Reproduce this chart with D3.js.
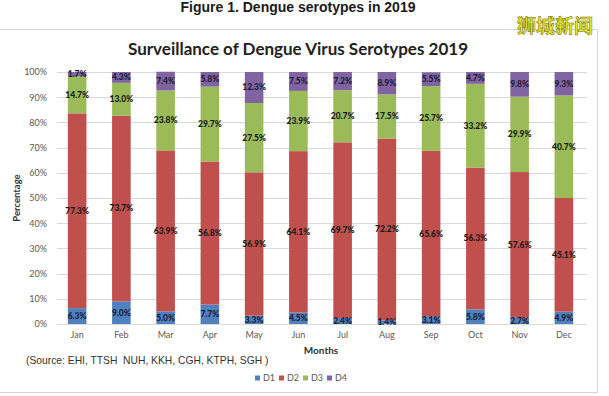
<!DOCTYPE html>
<html>
<head>
<meta charset="utf-8">
<script src="https://cdn.jsdelivr.net/npm/d3@7"></script>
<style>
  html, body { margin: 0; padding: 0; background: #fff; }
  svg { display: block; }
</style>
</head>
<body>
<svg></svg>
<script>
const width = 609;
const height = 396;

// data
const months = ["Jan", "Feb", "Mar", "Apr", "May", "Jun", "Jul", "Aug", "Sep", "Oct", "Nov", "Dec"];
const serotypes = ["D1", "D2", "D3", "D4"];
const d1 = [6.3, 9.0, 5.0, 7.7, 3.3, 4.5, 2.4, 1.4, 3.1, 5.8, 2.7, 4.9];
const d2 = [77.3, 73.7, 63.9, 56.8, 56.9, 64.1, 69.7, 72.2, 65.6, 56.3, 57.6, 45.1];
const d3v = [14.7, 13.0, 23.8, 29.7, 27.5, 23.9, 20.7, 17.5, 25.7, 33.2, 29.9, 40.7];
const d4 = [1.7, 4.3, 7.4, 5.8, 12.3, 7.5, 7.2, 8.9, 5.5, 4.7, 9.8, 9.3];
const yTicks = [0, 10, 20, 30, 40, 50, 60, 70, 80, 90, 100];
const colors = ["#4f81bd", "#c0504d", "#9bbb59", "#8064a2"];

const rows = months.map((m, i) => ({ month: m, D1: d1[i], D2: d2[i], D3: d3v[i], D4: d4[i] }));
const stacked = d3.stack().keys(serotypes)(rows);

const svg = d3.select("svg")
    .attr("width", width)
    .attr("height", height);

const x = d3.scaleBand()
    .domain(months)
    .range([55, 586])
    .paddingInner(0.58)
    .paddingOuter(0.29);

const y = d3.scaleLinear()
    .domain([0, 100])
    .range([324, 72]);

const color = d3.scaleOrdinal().domain(serotypes).range(colors);

// page heading
svg.append("text")
    .attr("x", 298)
    .attr("y", 12)
    .attr("text-anchor", "middle")
    .style("font-family", "'Liberation Sans', Arial, sans-serif")
    .style("font-weight", "bold")
    .style("font-size", "14px")
    .attr("fill", "#1a1a1a")
    .text("Figure 1. Dengue serotypes in 2019");

// chart frame
svg.append("path")
    .attr("d", "M0,29.5H597.5V392.5H0")
    .attr("fill", "none")
    .attr("stroke", "#d4d4d4");

// watermark
svg.append("text")
    .attr("x", 517)
    .attr("y", 33)
    .style("font-family", "'Noto Sans CJK SC', sans-serif")
    .style("font-weight", "bold")
    .style("font-size", "19px")
    .attr("fill", "#e8e81a")
    .attr("stroke", "#6b6b20")
    .attr("stroke-width", 0.5)
    .text("狮城新闻");

svg.append("text")
    .attr("x", 298)
    .attr("y", 55)
    .attr("text-anchor", "middle")
    .style("font-family", "Lato, sans-serif")
    .style("font-weight", "bold")
    .style("font-size", "17px")
    .attr("fill", "#222")
    .text("Surveillance of Dengue Virus Serotypes 2019");

// gridlines
svg.append("g")
    .selectAll("line")
    .data(yTicks)
    .join("line")
    .attr("x1", 57)
    .attr("x2", 587)
    .attr("y1", d => Math.round(y(d)) + 0.5)
    .attr("y2", d => Math.round(y(d)) + 0.5)
    .attr("stroke", "#d9d9d9");

// y axis
const yAxis = svg.append("g")
    .attr("transform", "translate(47,0)")
    .call(d3.axisLeft(y).tickValues(yTicks).tickFormat(d => d + "%").tickSize(0).tickPadding(0));
yAxis.select(".domain").remove();
yAxis.selectAll("text")
    .style("font-family", "Lato, sans-serif")
    .style("font-size", "9px")
    .attr("fill", "#595959");

// x axis
const xAxis = svg.append("g")
    .attr("transform", "translate(0,324)")
    .call(d3.axisBottom(x).tickSize(0).tickPadding(8));
xAxis.select(".domain").remove();
xAxis.selectAll("text")
    .style("font-family", "Lato, sans-serif")
    .style("font-size", "9px")
    .attr("fill", "#595959");

// bars
const layers = svg.append("g")
    .selectAll("g")
    .data(stacked)
    .join("g")
    .attr("fill", d => color(d.key));

layers.selectAll("rect")
    .data(d => d)
    .join("rect")
    .attr("x", d => x(d.data.month))
    .attr("width", x.bandwidth())
    .attr("y", d => y(d[1]))
    .attr("height", d => y(d[0]) - y(d[1]));

// data labels
const labels = svg.append("g")
    .selectAll("g")
    .data(stacked)
    .join("g");

labels.selectAll("text")
    .data(d => d.map(v => ({ v, key: d.key })))
    .join("text")
    .attr("x", d => x(d.v.data.month) + x.bandwidth() / 2)
    .attr("y", d => y((d.v[0] + d.v[1]) / 2))
    .attr("dy", "0.35em")
    .attr("text-anchor", "middle")
    .style("font-family", "Lato, sans-serif")
    .style("font-weight", "900")
    .style("font-size", "8.5px")
    .attr("fill", d => (d.key === "D1" || d.key === "D4") ? "#1c1c3a" : "#1a1a1a")
    .text(d => d3.format(".1f")(d.v.data[d.key]) + "%");

// axis titles
svg.append("text")
    .attr("transform", "translate(20,198) rotate(-90)")
    .attr("text-anchor", "middle")
    .style("font-family", "Lato, sans-serif")
    .style("font-weight", "bold")
    .style("font-size", "9.5px")
    .attr("fill", "#333")
    .text("Percentage");

svg.append("text")
    .attr("x", 321)
    .attr("y", 354)
    .attr("text-anchor", "middle")
    .style("font-family", "Lato, sans-serif")
    .style("font-weight", "bold")
    .style("font-size", "10px")
    .attr("fill", "#333")
    .text("Months");

svg.append("text")
    .attr("x", 26)
    .attr("y", 364)
    .style("font-family", "'Liberation Sans', Arial, sans-serif")
    .style("font-size", "10.3px")
    .attr("fill", "#333")
    .attr("xml:space", "preserve")
    .style("white-space", "pre")
    .text("(Source: EHI, TTSH  NUH, KKH, CGH, KTPH, SGH )");

// legend
const legend = svg.append("g")
    .selectAll("g")
    .data(serotypes)
    .join("g")
    .attr("transform", (d, i) => `translate(${255 + i * 24},378)`);

legend.append("rect")
    .attr("x", 0)
    .attr("y", -2.5)
    .attr("width", 5)
    .attr("height", 5)
    .attr("fill", d => color(d));

legend.append("text")
    .attr("x", 8)
    .attr("dy", "0.35em")
    .style("font-family", "Lato, sans-serif")
    .style("font-size", "9px")
    .attr("fill", "#595959")
    .text(d => d);
</script>
</body>
</html>
